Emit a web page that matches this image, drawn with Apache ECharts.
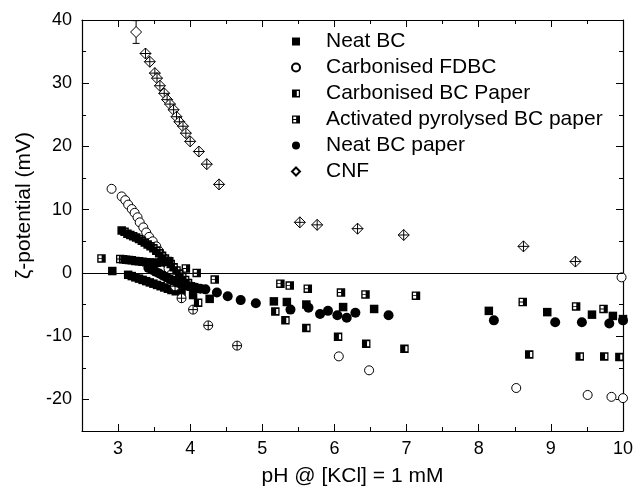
<!DOCTYPE html>
<html>
<head>
<meta charset="utf-8">
<script src="https://cdn.jsdelivr.net/npm/echarts@6/dist/echarts.min.js"></script>
<style>html,body{margin:0;padding:0;background:#fff}#c{width:642px;height:492px}</style>
</head>
<body>
<div id="c"></div>
<script>
// ---- tick values ----
const xMajor = [3, 4, 5, 6, 7, 8, 9, 10];
const xMinor = [3.5, 4.5, 5.5, 6.5, 7.5, 8.5, 9.5];
const yMajor = [-20, -10, 0, 10, 20, 30, 40];
const yMinor = [-15, -5, 5, 15, 25, 35];

// ---- series names ----
const names = ['Neat BC', 'Carbonised FDBC', 'Carbonised BC Paper', 'Activated pyrolysed BC paper', 'Neat BC paper', 'CNF'];

// ---- Neat BC (filled squares) ----
const neatBcX = [2.92, 3.14, 3.19, 3.24, 3.29, 3.34, 3.39, 3.44, 3.49, 3.54, 3.59, 3.64, 3.69, 3.74, 3.80, 3.88, 4.04, 4.27, 5.16, 5.34, 5.61, 6.12, 6.55, 8.14, 8.95, 9.57, 9.86, 10.0];
const neatBcY = [0.3, -0.3, -0.5, -0.7, -0.9, -1.1, -1.3, -1.5, -1.7, -1.9, -2.1, -2.3, -2.5, -2.7, -2.9, -3.1, -3.5, -4.1, -4.5, -4.6, -5.0, -5.4, -5.7, -6.0, -6.2, -6.6, -6.8, -7.3];

// ---- Carbonised FDBC (open circles; some with cross) ----
const fdbcX = [2.91, 3.05, 3.10, 3.14, 3.19, 3.23, 3.27, 3.30, 3.35, 3.39, 3.43, 3.48, 3.53, 3.57, 3.62, 3.66, 3.70, 3.74, 6.06, 6.48, 8.52, 9.51, 9.84, 9.98, 10.0];
const fdbcY = [13.3, 12.1, 11.5, 10.8, 10.1, 9.5, 8.8, 8.0, 7.2, 6.4, 5.7, 5.0, 4.2, 3.4, 2.5, 1.6, 0.7, -0.2, -13.2, -15.4, -18.2, -19.3, -19.6, -0.7, -19.8];
const fdbcCrossX = [3.79, 3.88, 4.04, 4.25, 4.65];
const fdbcCrossY = [-2.1, -4.0, -5.8, -8.3, -11.5];

// ---- Carbonised BC Paper ----
const cbcpX = [3.05, 3.09, 3.13, 3.17, 3.21, 3.25, 3.29, 3.33, 3.37, 3.41, 3.45, 3.49, 3.53, 3.57, 3.61, 3.65, 3.69, 3.73, 3.77, 3.81, 3.85, 3.89, 3.93, 3.97, 4.01, 4.11, 5.18, 5.32, 5.61, 6.05, 6.44, 6.97, 8.70, 9.40, 9.74, 9.95];
const cbcpY = [6.7, 6.5, 6.2, 6.0, 5.8, 5.6, 5.35, 5.1, 4.8, 4.5, 4.2, 3.9, 3.5, 3.1, 2.7, 2.3, 1.9, 1.4, 0.9, 0.4, -0.1, -0.6, -1.1, -1.6, -2.1, -4.7, -6.1, -7.5, -8.7, -10.1, -11.2, -12.0, -12.9, -13.2, -13.2, -13.3];

// ---- Activated pyrolysed BC paper ----
const apbcX = [2.77, 3.03, 3.07, 3.11, 3.15, 3.19, 3.24, 3.29, 3.34, 3.39, 3.44, 3.49, 3.54, 3.60, 3.66, 3.71, 3.94, 4.09, 4.34, 5.25, 5.38, 5.63, 6.09, 6.43, 7.13, 8.61, 9.35, 9.73];
const apbcY = [2.3, 2.2, 2.15, 2.1, 2.05, 2.0, 1.9, 1.85, 1.75, 1.7, 1.65, 1.6, 1.6, 1.7, 1.8, 1.85, 0.7, 0.0, -1.05, -1.7, -2.0, -2.5, -3.1, -3.4, -3.6, -4.6, -5.3, -5.7];

// ---- Neat BC paper (filled circles) ----
const nbcpX = [3.42, 3.47, 3.52, 3.57, 3.62, 3.67, 3.72, 3.77, 3.82, 3.87, 3.92, 3.97, 4.02, 4.08, 4.14, 4.21, 4.37, 4.52, 4.70, 4.91, 5.39, 5.64, 5.80, 5.91, 6.04, 6.17, 6.29, 6.75, 8.21, 9.06, 9.43, 9.81, 10.0];
const nbcpY = [0.8, 0.5, 0.2, -0.1, -0.4, -0.7, -1.0, -1.25, -1.5, -1.7, -1.9, -2.05, -2.2, -2.35, -2.5, -2.6, -3.1, -3.7, -4.3, -4.8, -5.8, -5.5, -6.5, -6.0, -6.7, -7.1, -6.3, -6.7, -7.5, -7.8, -7.8, -8.0, -7.5];

// ---- CNF (diamonds) ----
const cnfX = [3.25];
const cnfY = [38.1];
const cnfErrLow = [36.3];
const cnfErrHigh = [39.9];
const cnfCrossX = [3.38, 3.44, 3.51, 3.54, 3.58, 3.64, 3.68, 3.72, 3.77, 3.81, 3.85, 3.90, 3.94, 4.00, 4.12, 4.23, 4.40, 5.52, 5.76, 6.32, 6.96, 8.62, 9.34];
const cnfCrossY = [34.7, 33.4, 31.6, 30.8, 29.6, 28.4, 27.4, 26.7, 25.8, 24.7, 23.9, 23.2, 22.1, 20.8, 19.2, 17.2, 14.0, 8.0, 7.6, 7.0, 6.0, 4.2, 1.8];

const zip = (xs, ys) => xs.map((x, i) => [x, ys[i]]);

// ---- symbols ----
const SYM_CBCP = 'path://M0,0L10,0L10,10L0,10Z M6,2L6,8L8.5,8L8.5,2Z';
const SYM_APBC = 'path://M0,0L10,0L10,10L0,10Z M1.6,1.6L1.6,4.5L5.2,4.5L5.2,1.6Z M1.6,5.5L1.6,8.4L5.2,8.4L5.2,5.5Z';
const SYM_OCROSS = 'path://M10,5A5,5,0,1,1,0,5A5,5,0,1,1,10,5Z M0,5L10,5 M5,0L5,10';
const SYM_DCROSS = 'path://M5,0L10,5L5,10L0,5Z M0,5L10,5 M5,0L5,10';

const FONT = "'Liberation Sans', Arial, Helvetica, sans-serif";
const black = '#000';

function xAx(pos, ticks, len, withLabels, withLine, extra) {
  return Object.assign({
    type: 'value', min: 2.5, max: 10, position: pos, gridIndex: 0,
    axisLine: { show: withLine, onZero: false, lineStyle: { color: black, width: 1.2 } },
    axisTick: { show: true, inside: true, length: len, customValues: ticks, lineStyle: { color: black, width: 1 } },
    axisLabel: withLabels ? { show: true, customValues: xMajor, color: black, fontSize: 18, margin: 9, fontFamily: FONT } : { show: false },
    splitLine: { show: false }
  }, extra || {});
}
function yAx(pos, ticks, len, withLabels, withLine, extra) {
  return Object.assign({
    type: 'value', min: -25, max: 40, position: pos, gridIndex: 0,
    axisLine: { show: withLine, onZero: false, lineStyle: { color: black, width: 1.2 } },
    axisTick: { show: true, inside: true, length: len, customValues: ticks, lineStyle: { color: black, width: 1 } },
    axisLabel: withLabels ? { show: true, customValues: yMajor, color: black, fontSize: 18, margin: 10, fontFamily: FONT } : { show: false },
    splitLine: { show: false }
  }, extra || {});
}

const chart = echarts.init(document.getElementById('c'), null, { renderer: 'canvas' });
chart.setOption({
  animation: false,
  backgroundColor: '#fff',
  textStyle: { fontFamily: FONT, color: black },
  grid: { left: 82, right: 19, top: 20, bottom: 59, containLabel: false },
  xAxis: [
    xAx('bottom', xMajor, 7, true, true, {
      name: 'pH @ [KCl] = 1 mM', nameLocation: 'middle', nameGap: 35,
      nameTextStyle: { fontSize: 21, color: black, fontFamily: FONT }
    }),
    xAx('bottom', xMinor, 4, false, false),
    xAx('top', xMajor, 7, false, true),
    xAx('top', xMinor, 4, false, false)
  ],
  yAxis: [
    yAx('left', yMajor, 7, true, true, {
      name: 'ζ-potential (mV)', nameLocation: 'middle', nameGap: 44,
      nameTextStyle: { fontSize: 21, color: black, fontFamily: FONT, padding: [0, 0, 0, 40] }
    }),
    yAx('left', yMinor, 4, false, false),
    yAx('right', yMajor, 7, false, true),
    yAx('right', yMinor, 4, false, false)
  ],
  legend: {
    orient: 'vertical', left: 291, top: 31, padding: 0,
    itemWidth: 8, itemHeight: 8, itemGap: 5,
    data: names,
    textStyle: { fontSize: 21, color: black, fontFamily: FONT, lineHeight: 21, padding: [0, 0, 0, 21] }
  },
  series: [
    {
      name: names[0], type: 'scatter', data: zip(neatBcX, neatBcY),
      symbol: 'rect', symbolSize: 8.5, itemStyle: { color: black, opacity: 1 },
      markLine: {
        silent: true, symbol: ['none', 'none'], label: { show: false },
        lineStyle: { color: black, width: 1.2, type: 'solid' },
        data: [{ yAxis: 0 }]
      }
    },
    {
      name: names[1], type: 'scatter', data: zip(fdbcX, fdbcY),
      symbol: 'circle', symbolSize: 9, itemStyle: { color: '#fff', borderColor: black, borderWidth: 1, opacity: 1 }
    },
    {
      name: names[1], type: 'scatter', data: zip(fdbcCrossX, fdbcCrossY),
      symbol: SYM_OCROSS, symbolSize: 9, itemStyle: { color: '#fff', borderColor: black, borderWidth: 1, opacity: 1 }
    },
    {
      name: names[2], type: 'scatter', data: zip(cbcpX, cbcpY),
      symbol: SYM_CBCP, symbolSize: 8.5, itemStyle: { color: black, opacity: 1 }
    },
    {
      name: names[3], type: 'scatter', data: zip(apbcX, apbcY),
      symbol: SYM_APBC, symbolSize: 8.5, itemStyle: { color: black, opacity: 1 }
    },
    {
      name: names[4], type: 'scatter', data: zip(nbcpX, nbcpY),
      symbol: 'circle', symbolSize: 10, itemStyle: { color: black, opacity: 1 }
    },
    {
      name: names[5], type: 'scatter', data: zip(cnfX, cnfY),
      symbol: 'diamond', symbolSize: 11, itemStyle: { color: '#fff', borderColor: black, borderWidth: 1, opacity: 1 }, z: 3
    },
    {
      name: names[5], type: 'scatter', data: zip(cnfCrossX, cnfCrossY),
      symbol: SYM_DCROSS, symbolSize: 11, itemStyle: { color: '#fff', borderColor: black, borderWidth: 1, opacity: 1 }, z: 3
    },
    {
      type: 'custom', name: 'CNF error', z: 1,
      data: cnfX.map((x, i) => [x, cnfErrLow[i], cnfErrHigh[i]]),
      encode: { x: 0, y: [1, 2] },
      renderItem: function (params, api) {
        const x = api.value(0);
        const lo = api.coord([x, api.value(1)]);
        const hi = api.coord([x, api.value(2)]);
        const w = 3.5;
        const st = { stroke: black, lineWidth: 1 };
        return {
          type: 'group', children: [
            { type: 'line', shape: { x1: lo[0], y1: lo[1], x2: hi[0], y2: hi[1] }, style: st },
            { type: 'line', shape: { x1: lo[0] - w, y1: lo[1], x2: lo[0] + w, y2: lo[1] }, style: st },
            { type: 'line', shape: { x1: hi[0] - w, y1: hi[1], x2: hi[0] + w, y2: hi[1] }, style: st }
          ]
        };
      }
    }
  ]
});
</script>
</body>
</html>
